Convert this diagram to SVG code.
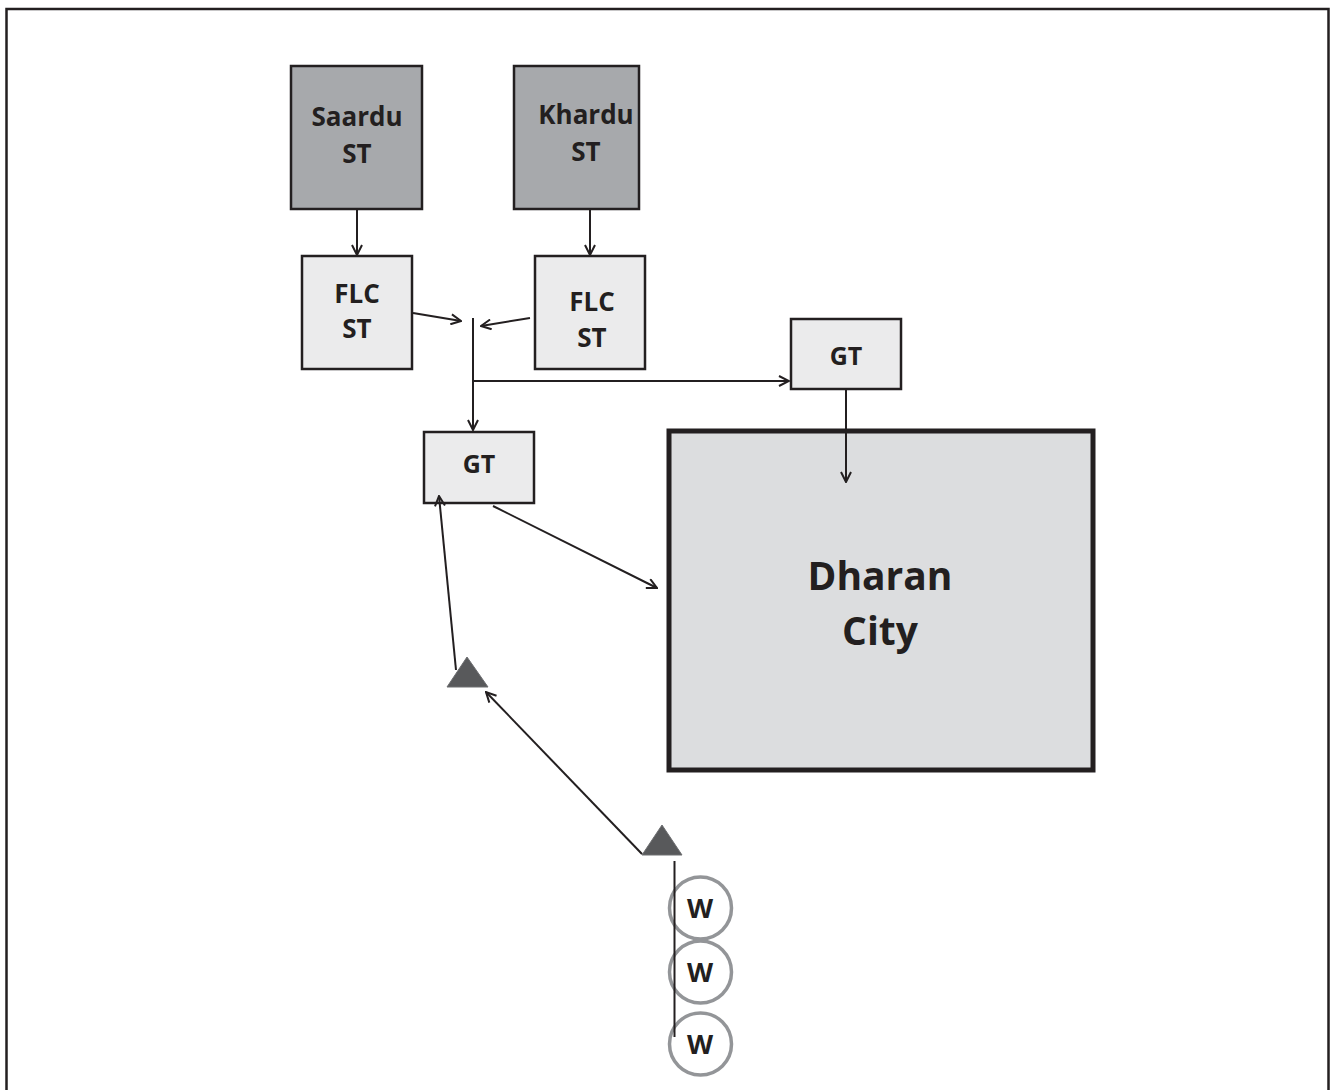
<svg xmlns="http://www.w3.org/2000/svg" width="1341" height="1090" viewBox="0 0 1341 1090">
  <style>
    .lbl { font-family: "Open Sans", "Noto Sans", "Liberation Sans", sans-serif; font-weight: 700; fill: #231f20; text-anchor: middle; }
    .src { fill: #a7a9ac; stroke: #231f20; stroke-width: 2.5; }
    .box { fill: #ebebec; stroke: #231f20; stroke-width: 2.5; }
    .city { fill: #dcdddf; stroke: #231f20; stroke-width: 5; }
    .tri { fill: #58595b; stroke: #6d6e71; stroke-width: 1; }
    .well { fill: none; stroke: #939598; stroke-width: 3.5; }
    .edge { fill: none; stroke: #231f20; stroke-width: 2; }
    .arr { marker-end: url(#head); }
  </style>
  <defs>
    <marker id="head" viewBox="0 0 12 12" refX="11" refY="6" markerWidth="12" markerHeight="12" markerUnits="userSpaceOnUse" orient="auto">
      <path d="M1,1 L11,6 L1,11" fill="none" stroke="#231f20" stroke-width="2"/>
    </marker>
  </defs>

  <!-- outer frame -->
  <rect x="6.5" y="9" width="1322" height="1100" fill="none" stroke="#231f20" stroke-width="2.5"/>

  <g id="saardu-st">
    <rect class="src" x="291" y="66" width="131" height="143"/>
    <text class="lbl" x="357" y="126" font-size="26">Saardu</text>
    <text class="lbl" x="357" y="163" font-size="26">ST</text>
  </g>

  <g id="khardu-st">
    <rect class="src" x="514" y="66" width="125" height="143"/>
    <text class="lbl" x="586" y="124" font-size="26">Khardu</text>
    <text class="lbl" x="586" y="161" font-size="26">ST</text>
  </g>

  <g id="flc-st-left">
    <rect class="box" x="302" y="256" width="110" height="113"/>
    <text class="lbl" x="357" y="303" font-size="26">FLC</text>
    <text class="lbl" x="357" y="338" font-size="26">ST</text>
  </g>

  <g id="flc-st-right">
    <rect class="box" x="535" y="256" width="110" height="113"/>
    <text class="lbl" x="592" y="311" font-size="26">FLC</text>
    <text class="lbl" x="592" y="347" font-size="26">ST</text>
  </g>

  <g id="gt-right">
    <rect class="box" x="791" y="319" width="110" height="70"/>
    <text class="lbl" x="846" y="365" font-size="25">GT</text>
  </g>

  <g id="gt-left">
    <rect class="box" x="424" y="432" width="110" height="71"/>
    <text class="lbl" x="479" y="473" font-size="25">GT</text>
  </g>

  <g id="dharan-city">
    <rect class="city" x="669" y="431" width="424" height="339"/>
    <text class="lbl" x="880" y="590" font-size="39">Dharan</text>
    <text class="lbl" x="880" y="645" font-size="39">City</text>
  </g>

  <g id="tank-upper">
    <polygon class="tri" points="467,657 488,687 447,687"/>
  </g>

  <g id="tank-lower">
    <polygon class="tri" points="662,825 682,855 642,855"/>
  </g>

  <g id="well-1">
    <circle class="well" cx="700.5" cy="908" r="31"/>
    <text class="lbl" x="700" y="918" font-size="27">W</text>
  </g>
  <g id="well-2">
    <circle class="well" cx="700.5" cy="972" r="31"/>
    <text class="lbl" x="700" y="982" font-size="27">W</text>
  </g>
  <g id="well-3">
    <circle class="well" cx="700.5" cy="1044" r="31"/>
    <text class="lbl" x="700" y="1054" font-size="27">W</text>
  </g>

  <!-- connectors, drawn over the nodes -->
  <g id="connectors">
    <line class="edge arr" x1="357" y1="209" x2="357" y2="255"/>
    <line class="edge arr" x1="590" y1="209" x2="590" y2="255"/>
    <line class="edge arr" x1="413" y1="313" x2="461" y2="321"/>
    <line class="edge arr" x1="530" y1="318" x2="481" y2="326"/>
    <line class="edge" x1="473" y1="318" x2="473" y2="381"/>
    <line class="edge arr" x1="473" y1="381" x2="473" y2="430"/>
    <line class="edge arr" x1="473" y1="381" x2="789" y2="381"/>
    <line class="edge arr" x1="846" y1="390" x2="846" y2="482"/>
    <line class="edge arr" x1="493" y1="506" x2="657" y2="588"/>
    <line class="edge arr" x1="456" y1="670" x2="439" y2="496"/>
    <line class="edge arr" x1="642" y1="854" x2="486" y2="692"/>
    <line class="edge" x1="674.5" y1="861" x2="674.5" y2="1037"/>
  </g>
</svg>
